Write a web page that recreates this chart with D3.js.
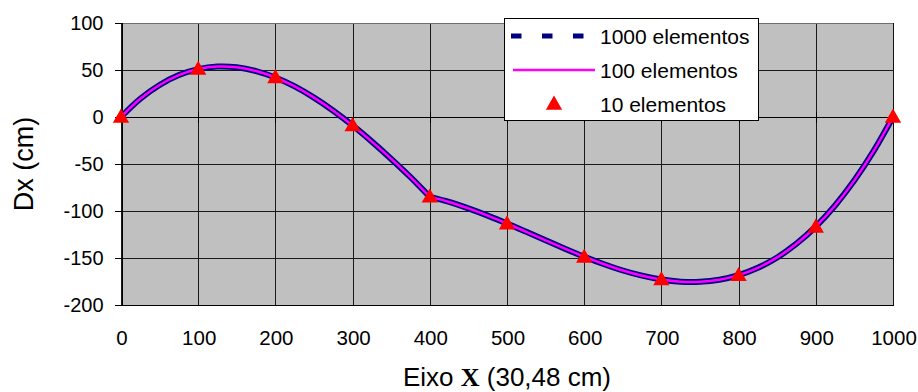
<!DOCTYPE html>
<html>
<head>
<meta charset="utf-8">
<script src="https://cdn.jsdelivr.net/npm/d3@7"></script>
<style>
  html, body { margin: 0; padding: 0; background: #fff; }
  svg { display: block; }
  text { font-family: "Liberation Sans", Arial, sans-serif; fill: #000; }
</style>
</head>
<body>
<svg id="chart" width="918" height="392"></svg>
<script>
// Horizontal displacement Dx along the beam axis for three mesh sizes
const curveX = [0, 25, 50, 75, 100, 125, 150, 175, 200, 225, 250, 275, 300, 325, 350, 375, 400,
  425, 450, 475, 500, 525, 550, 575, 600, 625, 650, 675, 700, 725, 750, 775, 800,
  825, 850, 875, 900, 925, 950, 975, 1000];
const dx1000 = [0, 19.4, 34.1, 44.6, 51, 53.7, 52.9, 48.9, 42, 32.5, 20.6, 6.7, -9, -26.2, -44.6, -64, -85,
  -90.4, -97.2, -104.9, -113.3, -122.2, -131.2, -140.1, -148.6, -156.4, -163.3, -168.8, -172.9, -175.2, -175.3, -173.1, -168.2,
  -160.4, -149.4, -134.8, -116.5, -94.1, -67.4, -36.1, 0];
const dx100 = [0, 19.4, 34.1, 44.6, 51, 53.7, 52.9, 48.9, 42, 32.5, 20.6, 6.7, -9, -26.2, -44.6, -64, -85,
  -90.4, -97.2, -104.9, -113.3, -122.2, -131.2, -140.1, -148.6, -156.4, -163.3, -168.8, -172.9, -175.2, -175.3, -173.1, -168.2,
  -160.4, -149.4, -134.8, -116.5, -94.1, -67.4, -36.1, 0];
const pointX = [0, 100, 200, 300, 400, 500, 600, 700, 800, 900, 1000];
const dx10 = [0, 51, 42, -9, -85, -113.5, -149, -173, -168.5, -117, 0];

// the load point where the deflected shape changes slope
const breakX = 400;

const xTicks = [0, 100, 200, 300, 400, 500, 600, 700, 800, 900, 1000];
const yTicks = [100, 50, 0, -50, -100, -150, -200];
const seriesNames = ["1000 elementos", "100 elementos", "10 elementos"];

const svg = d3.select("#chart");
const plot = { left: 121, top: 23, right: 893, bottom: 305 };
const fmt = d => String(d);

const x = d3.scaleLinear().domain([0, 1000]).range([plot.left, plot.right]);
const y = d3.scaleLinear().domain([-200, 100]).range([plot.bottom, plot.top]);

// plot area background
svg.append("rect")
  .attr("x", plot.left).attr("y", plot.top)
  .attr("width", plot.right - plot.left).attr("height", plot.bottom - plot.top)
  .attr("fill", "#C0C0C0");

// gridlines
const grid = svg.append("g").attr("shape-rendering", "crispEdges");
grid.selectAll("line.h").data(yTicks).join("line")
  .attr("x1", plot.left).attr("x2", plot.right)
  .attr("y1", d => Math.round(y(d)) + 0.5).attr("y2", d => Math.round(y(d)) + 0.5)
  .attr("stroke", "#1a1a1a").attr("stroke-width", 1);
grid.selectAll("line.v").data(xTicks).join("line")
  .attr("y1", plot.top).attr("y2", plot.bottom)
  .attr("x1", d => Math.round(x(d)) + 0.5).attr("x2", d => Math.round(x(d)) + 0.5)
  .attr("stroke", "#1a1a1a").attr("stroke-width", 1);

// plot area frame: grey top, dark right
svg.append("line").attr("shape-rendering", "crispEdges")
  .attr("x1", plot.left).attr("x2", plot.right + 1)
  .attr("y1", plot.top + 0.5).attr("y2", plot.top + 0.5)
  .attr("stroke", "#6e6e6e").attr("stroke-width", 1.5);
svg.append("line").attr("shape-rendering", "crispEdges")
  .attr("x1", plot.right + 0.5).attr("x2", plot.right + 0.5)
  .attr("y1", plot.top).attr("y2", plot.bottom + 1)
  .attr("stroke", "#111").attr("stroke-width", 1);

// y axis (left) with outward ticks
const yAxis = d3.axisLeft(y).tickValues(yTicks).tickSize(7).tickPadding(11).tickFormat(fmt);
const gy = svg.append("g")
  .attr("transform", `translate(${plot.left + 0.5},0)`)
  .call(yAxis);
gy.selectAll("line").attr("stroke", "#000").attr("shape-rendering", "crispEdges");
gy.select(".domain").attr("stroke", "#000").attr("shape-rendering", "crispEdges");
gy.selectAll("text").attr("font-size", 20)
  .attr("font-family", "'Liberation Sans', Arial, sans-serif").attr("fill", "#000");

// bottom frame line
svg.append("line").attr("shape-rendering", "crispEdges")
  .attr("x1", plot.left).attr("x2", plot.right + 1)
  .attr("y1", plot.bottom + 0.5).attr("y2", plot.bottom + 0.5)
  .attr("stroke", "#000");

// x axis crossing at Dx = 0, with cross ticks
const gx0 = svg.append("g").attr("shape-rendering", "crispEdges");
gx0.append("line")
  .attr("x1", plot.left).attr("x2", plot.right)
  .attr("y1", Math.round(y(0)) + 0.5).attr("y2", Math.round(y(0)) + 0.5)
  .attr("stroke", "#000");
gx0.selectAll("line.t").data(xTicks).join("line")
  .attr("x1", d => Math.round(x(d)) + 0.5).attr("x2", d => Math.round(x(d)) + 0.5)
  .attr("y1", y(0) - 5).attr("y2", y(0) + 6)
  .attr("stroke", "#000");

// x tick labels along the bottom
const xAxis = d3.axisBottom(x).tickValues(xTicks).tickSize(0).tickPadding(25).tickFormat(fmt);
const gxb = svg.append("g")
  .attr("transform", `translate(0.5,${plot.bottom})`)
  .call(xAxis);
gxb.select(".domain").remove();
gxb.selectAll("text").attr("font-size", 20.5)
  .attr("font-family", "'Liberation Sans', Arial, sans-serif").attr("fill", "#000");

// series curves: smooth on each side of the load point
const line = d3.line()
  .x(d => x(d[0])).y(d => y(d[1]))
  .curve(d3.curveCatmullRom.alpha(0.5));

function pieces(xs, ys) {
  const pts = xs.map((v, i) => [v, ys[i]]);
  return [pts.filter(p => p[0] <= breakX), pts.filter(p => p[0] >= breakX)];
}

svg.append("g").selectAll("path")
  .data(pieces(curveX, dx1000))
  .join("path")
  .attr("d", line)
  .attr("fill", "none").attr("stroke", "#000080")
  .attr("stroke-width", 6).attr("stroke-linejoin", "round").attr("stroke-linecap", "round");

svg.append("g").selectAll("path")
  .data(pieces(curveX, dx100))
  .join("path")
  .attr("d", line)
  .attr("fill", "none").attr("stroke", "#FF00FF")
  .attr("stroke-width", 2.5).attr("stroke-linejoin", "round").attr("stroke-linecap", "round");

// triangle markers
const tri = d3.symbol().type(d3.symbolTriangle).size(115);
svg.append("g").selectAll("path")
  .data(pointX.map((v, i) => [v, dx10[i]]))
  .join("path")
  .attr("d", tri)
  .attr("transform", d => `translate(${x(d[0])},${y(d[1]) + 1})`)
  .attr("fill", "#FF0000");

// legend
const lg = svg.append("g");
lg.append("rect")
  .attr("x", 504.5).attr("y", 18.5).attr("width", 254).attr("height", 102)
  .attr("fill", "#fff").attr("stroke", "#000").attr("stroke-width", 1);

const rowY = [36, 70, 104];
lg.append("line")
  .attr("x1", 511).attr("x2", 585).attr("y1", rowY[0]).attr("y2", rowY[0])
  .attr("stroke", "#000080").attr("stroke-width", 5).attr("stroke-dasharray", "10.5,20.5");
lg.append("line")
  .attr("x1", 513).attr("x2", 595).attr("y1", rowY[1]).attr("y2", rowY[1])
  .attr("stroke", "#FF00FF").attr("stroke-width", 2.5);
lg.append("path")
  .attr("d", tri)
  .attr("transform", `translate(554,${rowY[2] + 1})`)
  .attr("fill", "#FF0000");

lg.selectAll("text.lab").data(seriesNames).join("text")
  .attr("x", 600).attr("y", (d, i) => rowY[i])
  .attr("dy", "0.36em")
  .attr("font-size", 21)
  .text(d => d);

// axis titles
const xt = svg.append("text")
  .attr("x", (plot.left + plot.right) / 2).attr("y", 386)
  .attr("text-anchor", "middle")
  .attr("font-size", 26);
xt.append("tspan").text("Eixo ");
xt.append("tspan").attr("font-family", "'Liberation Serif', 'Times New Roman', serif")
  .attr("font-weight", "bold").text("X");
xt.append("tspan").text(" (30,48 cm)");

svg.append("text")
  .attr("transform", `translate(33,${(plot.top + plot.bottom) / 2}) rotate(-90)`)
  .attr("text-anchor", "middle")
  .attr("font-size", 27)
  .text("Dx (cm)");
</script>
</body>
</html>
